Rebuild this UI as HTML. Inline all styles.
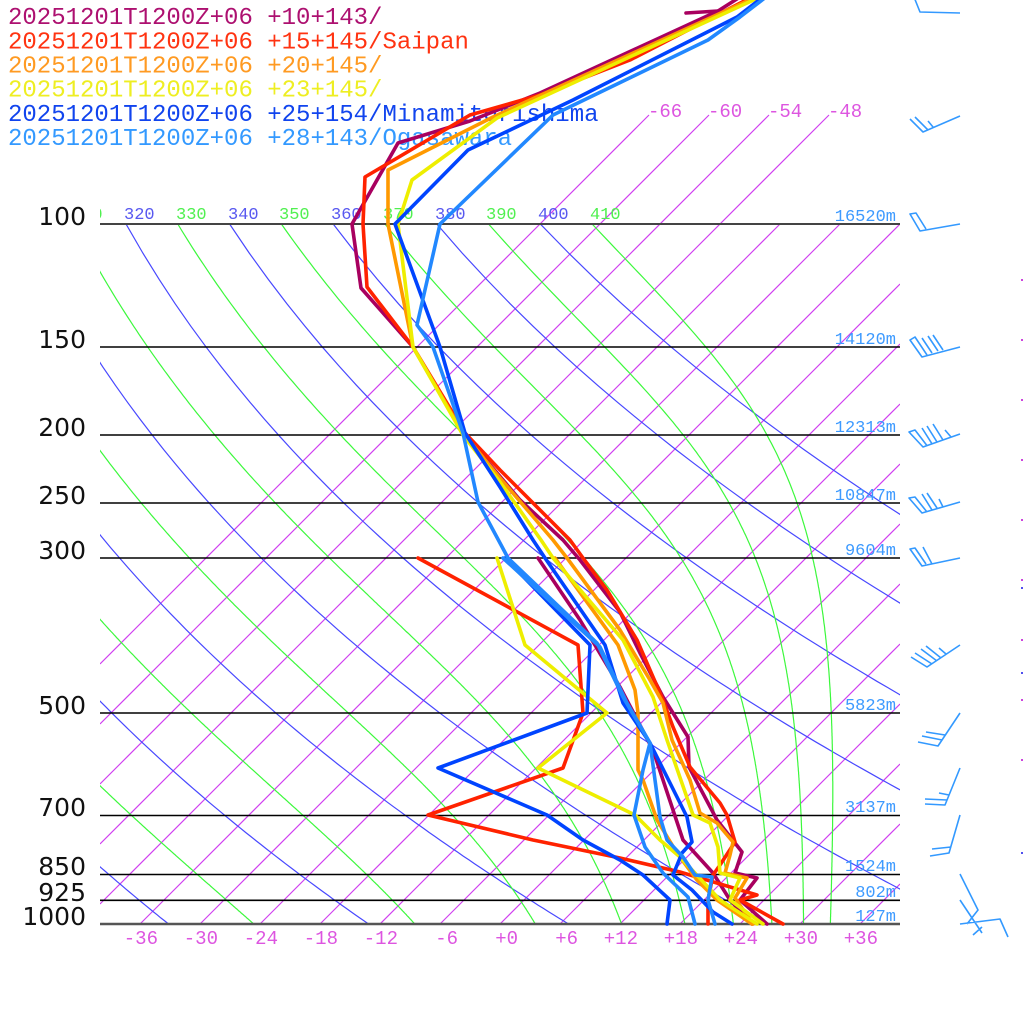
<!DOCTYPE html>
<html><head><meta charset="utf-8"><style>
html,body{margin:0;padding:0;background:#fff;width:1024px;height:1024px;overflow:hidden}
svg{display:block}
.m{font-family:"Liberation Mono","DejaVu Sans Mono",monospace;white-space:pre}
.pl{font-family:"DejaVu Sans","Liberation Sans",sans-serif;font-size:25px;fill:#111;text-anchor:end}
.hl{font-family:"Liberation Mono",monospace;font-size:17px;fill:#3d9aff;text-anchor:end}
.tl{font-family:"Liberation Mono",monospace;font-size:19px;fill:#dd55e0}
.th{font-family:"Liberation Mono",monospace;font-size:17px}
</style></head><body>
<svg id="s" xmlns="http://www.w3.org/2000/svg" width="1024" height="1024" viewBox="0 0 1024 1024">
<defs>
<clipPath id="cp"><rect x="100" y="224" width="800" height="700"/></clipPath>
<clipPath id="cx"><rect x="100" y="0" width="800" height="1024"/></clipPath>
</defs>
<rect width="1024" height="1024" fill="#fff"/>

<g id="iso" clip-path="url(#cx)" stroke="#d040f0" stroke-width="1.15" fill="none">
<path d="M100,664L649,115M100,724L709,115M100,784L769,115M100,844L829,115M100,904L780,224M140,924L840,224M200,924L900,224M260,924L900,284M320,924L900,344M380,924L900,404M440,924L900,464M500,924L900,524M560,924L900,584M620,924L900,644M680,924L900,704M740,924L900,764M800,924L900,824M860,924L900,884"/>
</g>
<g id="dry" clip-path="url(#cp)" stroke="#4848ff" stroke-width="1.2" fill="none"></g>
<g id="wet" clip-path="url(#cp)" stroke="#3cf83c" stroke-width="1.2" fill="none"></g>

<!-- pressure lines -->
<g stroke="#000" stroke-width="1.6">
<line x1="100" y1="347" x2="900" y2="347"/>
<line x1="100" y1="435" x2="900" y2="435"/>
<line x1="100" y1="503" x2="900" y2="503"/>
<line x1="100" y1="558" x2="900" y2="558"/>
<line x1="100" y1="713" x2="900" y2="713"/>
<line x1="100" y1="815.5" x2="900" y2="815.5"/>
<line x1="100" y1="874.5" x2="900" y2="874.5"/>
<line x1="100" y1="900.3" x2="900" y2="900.3"/>
</g>
<line x1="100" y1="224" x2="900" y2="224" stroke="#444" stroke-width="2"/>
<line x1="100" y1="924" x2="900" y2="924" stroke="#555" stroke-width="2.4"/>

<!-- pressure labels -->
<text class="pl" x="86" y="225">100</text>
<text class="pl" x="86" y="348">150</text>
<text class="pl" x="86" y="436">200</text>
<text class="pl" x="86" y="504">250</text>
<text class="pl" x="86" y="559">300</text>
<text class="pl" x="86" y="714">500</text>
<text class="pl" x="86" y="816">700</text>
<text class="pl" x="86" y="875">850</text>
<text class="pl" x="86" y="901">925</text>
<text class="pl" x="86" y="925">1000</text>

<!-- height labels -->
<text class="hl" x="896" y="221">16520m</text>
<text class="hl" x="896" y="344">14120m</text>
<text class="hl" x="896" y="432">12313m</text>
<text class="hl" x="896" y="500">10847m</text>
<text class="hl" x="896" y="555">9604m</text>
<text class="hl" x="896" y="710">5823m</text>
<text class="hl" x="896" y="812">3137m</text>
<text class="hl" x="896" y="871">1524m</text>
<text class="hl" x="896" y="897">802m</text>
<text class="hl" x="896" y="921">127m</text>

<!-- bottom temperature labels -->
<g class="tl" text-anchor="end">
<text x="158" y="944">-36</text>
<text x="218" y="944">-30</text>
<text x="278" y="944">-24</text>
<text x="338" y="944">-18</text>
<text x="398" y="944">-12</text>
<text x="458" y="944">-6</text>
<text x="518" y="944">+0</text>
<text x="578" y="944">+6</text>
<text x="638" y="944">+12</text>
<text x="698" y="944">+18</text>
<text x="758" y="944">+24</text>
<text x="818" y="944">+30</text>
<text x="878" y="944">+36</text>
</g>
<!-- top isotherm labels -->
<text class="tl" x="648" y="117">-66</text>
<text class="tl" x="708" y="117">-60</text>
<text class="tl" x="768" y="117">-54</text>
<text class="tl" x="828" y="117">-48</text>

<!-- theta labels -->
<g class="th" clip-path="url(#cx)">
<text x="72" y="219" fill="#50f050">310</text>
<text x="124" y="219" fill="#5858f0">320</text>
<text x="176" y="219" fill="#50f050">330</text>
<text x="228" y="219" fill="#5858f0">340</text>
<text x="279" y="219" fill="#50f050">350</text>
<text x="331" y="219" fill="#5858f0">360</text>
<text x="383" y="219" fill="#50f050">370</text>
<text x="435" y="219" fill="#5858f0">380</text>
<text x="486" y="219" fill="#50f050">390</text>
<text x="538" y="219" fill="#5858f0">400</text>
<text x="590" y="219" fill="#50f050">410</text>
</g>

<!-- legend -->
<g class="m" font-size="24">
<text x="8" y="24" fill="#ad1070">20251201T1200Z+06 +10+143/</text>
<text x="8" y="48.5" fill="#ff3311">20251201T1200Z+06 +15+145/Saipan</text>
<text x="8" y="72.5" fill="#ff9a22">20251201T1200Z+06 +20+145/</text>
<text x="8" y="96.5" fill="#eeee22">20251201T1200Z+06 +23+145/</text>
<text x="8" y="121" fill="#1144ee">20251201T1200Z+06 +25+154/Minamitorishima</text>
<text x="8" y="145" fill="#3399ff">20251201T1200Z+06 +28+143/Ogasawara</text>
</g>

<!-- profiles -->
<g fill="none" stroke-width="3.6" stroke-linejoin="round" stroke-linecap="round">
<g stroke="#a8005f">
<polyline points="740,-3 718,11 540,93 470,121 398,143 352,224 361,288 413,347 463,433 520,500 563,540 580,560 620,612 640,653 663,697 688,737 689,767 717,820 742,852 735,873 757,878 740,900 767,924"/>
<polyline points="718,11 686,13"/>
<polyline points="538,558 580,620 620,687 653,750 683,840 713,873 730,900 752,924"/>
</g>
<g stroke="#ff2200">
<polyline points="752,-3 630,60 540,95 470,115 365,177 363,224 367,287 413,347 465,433 500,470 570,540 583,558 607,590 637,640 663,700 673,727 690,767 720,803 727,815 735,842 720,865 713,875 708,900 708,924"/>
<polyline points="418,558 578,645 583,713 563,768 428,815 533,840 620,858 680,872 757,895 740,900 783,924"/>
</g>
<g stroke="#ff9900">
<polyline points="756,-3 493,117 388,170 388,224 413,347 463,433 500,478 553,540 567,558 620,630 650,680 663,703 672,740 690,780 700,813 717,823 733,842 730,855 725,873 747,878 735,898 753,924"/>
<polyline points="555,558 618,645 635,690 638,713 638,770 643,780 657,820 677,853 697,880 717,900 752,924"/>
</g>
<g stroke="#eeee00">
<polyline points="760,-3 497,118 412,180 398,224 413,347 463,435 500,482 541,540 553,558 623,640 653,697 667,740 693,815 710,823 718,847 720,873 740,878 730,900 763,924"/>
<polyline points="497,558 525,645 607,713 538,768 635,815 660,840 680,857 720,900 757,924"/>
</g>
<g stroke="#0044ff">
<polyline points="763,-3 737,17 573,100 468,150 395,224 440,347 465,433 500,487 533,540 545,558 605,645 623,703 650,743 687,817 692,842 682,853 673,875 692,890 713,912 732,924"/>
<polyline points="505,558 590,645 587,713 438,768 547,815 583,840 620,860 643,875 670,900 667,924"/>
</g>
<g stroke="#2288ff">
<polyline points="766,-3 740,17 708,40 553,115 440,224 417,325 433,347 463,433 478,502 500,543 508,558 597,643 623,697 650,743 660,817 667,840 683,857 695,875 712,877 708,900 715,924"/>
<polyline points="503,558 600,647 627,703 650,743 643,770 634,815 645,847 663,873 688,897 695,924"/>
</g>
</g>

<!-- wind barbs -->
<path fill="none" stroke="#3399ff" stroke-width="1.6" stroke-linejoin="round" d="
M960,13L920,12L914,-3
M960,116L923,132L910,119 M928,130L915,117 M933,127L928,121
M960,224L920,231L910,214L916,213L926,229
M960,347L922,357L910,340L915,337L927,355 M932,353L922,338 M938,351L928,336 M943,350L933,335
M960,434L923,447L909,432L915,430L927,445.6 M932,443.8L922,428 M937,442L927,426 M943,440L933,424 M951,437L945,430
M960,502L922,513L909,498L915,497L927,512 M932,510L922,494 M937,508L927,493 M943,507L939,499
M960,558L922,566L910,549L915,548L926,564 M932,564L923,547
M960,645L927,667L911,657 M932,664L915,653 M937,661L921,649 M941,658L926,646 M946,654L939,648
M960,713L938,746L918,742 M942,740L922,736 M945,735L926,732
M960,768L945,805L925,804 M947,800L925,799 M949,795L939,793
M960,815L949,853L930,856 M951,847L932,849
M960,874L978,910L967,924
M960,900L982,933 M973,935L982,927
M960,924L1000,919L1008,937"/>

<!-- tiny edge dots -->
<g fill="#cc44dd">
<rect x="1021" y="279" width="2" height="2"/><rect x="1021" y="339" width="2" height="2"/>
<rect x="1021" y="399" width="2" height="2"/><rect x="1021" y="459" width="2" height="2"/>
<rect x="1021" y="519" width="2" height="2"/><rect x="1021" y="579" width="2" height="2"/>
<rect x="1021" y="639" width="2" height="2"/><rect x="1021" y="699" width="2" height="2"/>
<rect x="1021" y="759" width="2" height="2"/>
</g>
<g fill="#5050ee">
<rect x="1021" y="587" width="2" height="2"/><rect x="1021" y="672" width="2" height="2"/>
<rect x="1021" y="852" width="2" height="2"/>
</g>
</svg>
<script>
(function(){
var ns="http://www.w3.org/2000/svg";
function Y(p){return 924-304*Math.log(1000/p);}
function X(Tk,y){return 500+10*(Tk-273.15)+(924-y);}
function add(g,d){var e=document.createElementNS(ns,"path");e.setAttribute("d",d);document.getElementById(g).appendChild(e);}
var th,p,T,y,d;
for(th=200;th<=400;th+=20){d="";for(p=100;p<=1000;p+=10){T=th*Math.pow(p/1000,0.2857);y=Y(p);d+=(p==100?"M":"L")+X(T,y).toFixed(1)+","+y.toFixed(1);}add("dry",d);}
function es(T){var c=T-273.15;return 6.112*Math.exp(17.67*c/(c+243.5));}
function f(p,T){var e=es(T);var r=0.622*e/(p-e);var Rd=287.04,Cp=1005.7,L=2.501e6;return (Rd*T+L*r)/(p*(Cp+L*L*r*0.622/(Rd*T*T)));}
for(th=230;th<=410;th+=20){T=th*Math.pow(0.1,0.2857);p=100;var h=2;y=Y(p);d="M"+X(T,y).toFixed(1)+","+y.toFixed(1);
 while(p<999.999){var k1=f(p,T),k2=f(p+h/2,T+h/2*k1),k3=f(p+h/2,T+h/2*k2),k4=f(p+h,T+h*k3);T+=h/6*(k1+2*k2+2*k3+k4);p+=h;y=Y(p);d+="L"+X(T,y).toFixed(1)+","+y.toFixed(1);}
 add("wet",d);}
})();
</script>
</body></html>
